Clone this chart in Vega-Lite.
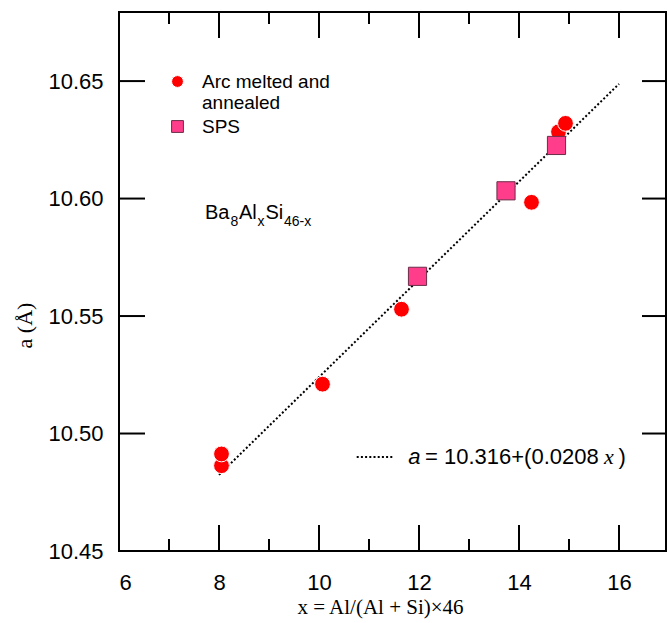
{
  "$schema": "https://vega.github.io/schema/vega-lite/v6.json",
  "width": 547,
  "height": 539,
  "autosize": "none",
  "padding": {"left": 119, "top": 12, "right": 3, "bottom": 72},
  "background": "white",
  "config": {
    "view": {"stroke": "black", "strokeWidth": 2},
    "axis": {
      "domain": false, "ticks": false, "grid": false,
      "labelFont": "Liberation Sans", "labelFontSize": 22, "labelColor": "black",
      "titleColor": "black", "titleFontWeight": "normal"
    },
    "legend": {
      "orient": "none", "legendX": 49, "legendY": 60,
      "labelFont": "Liberation Sans", "labelFontSize": 19, "labelColor": "black",
      "labelOffset": 15, "rowPadding": 4, "labelLimit": 300, "symbolSize": 140, "symbolStrokeWidth": 1
    }
  },
  "datasets": {
    "fit": [{"x": 8, "a": 10.4824}, {"x": 16, "a": 10.6488}],
    "arc": [
      {"x": 8.05, "a": 10.4863, "method": "Arc melted and annealed"},
      {"x": 8.05, "a": 10.4913, "method": "Arc melted and annealed"},
      {"x": 10.07, "a": 10.5210, "method": "Arc melted and annealed"},
      {"x": 11.65, "a": 10.5529, "method": "Arc melted and annealed"},
      {"x": 14.25, "a": 10.5984, "method": "Arc melted and annealed"},
      {"x": 14.79, "a": 10.6284, "method": "Arc melted and annealed"},
      {"x": 14.93, "a": 10.6320, "method": "Arc melted and annealed"}
    ],
    "sps": [
      {"x": 11.97, "a": 10.5669, "method": "SPS"},
      {"x": 13.74, "a": 10.6033, "method": "SPS"},
      {"x": 14.75, "a": 10.6226, "method": "SPS"}
    ],
    "xMajor": [{"x": 8}, {"x": 10}, {"x": 12}, {"x": 14}, {"x": 16}],
    "xMinor": [{"x": 7}, {"x": 9}, {"x": 11}, {"x": 13}, {"x": 15}],
    "yMajor": [{"a": 10.5}, {"a": 10.55}, {"a": 10.6}, {"a": 10.65}],
    "formulaMain": [
      {"x": 7.72, "a": 10.5913, "t": "Ba"},
      {"x": 8.4, "a": 10.5913, "t": "Al"},
      {"x": 8.93, "a": 10.5913, "t": "Si"}
    ],
    "formulaSub": [
      {"x": 8.23, "a": 10.5885, "t": "8"},
      {"x": 8.77, "a": 10.5885, "t": "x"},
      {"x": 9.3, "a": 10.5885, "t": "46-x"}
    ],
    "eqLine": [{"x": 10.754, "x2": 11.48, "a": 10.49}],
    "eqItalic": [{"x": 11.786, "a": 10.487, "t": "a"}],
    "eqMain": [{"x": 12.12, "a": 10.487, "t": "= 10.316+(0.0208"}],
    "eqX": [{"x": 15.7, "a": 10.487, "t": "x"}],
    "eqClose": [{"x": 15.99, "a": 10.487, "t": ")"}]
  },
  "layer": [
    {
      "data": {"name": "fit"},
      "mark": {"type": "line", "color": "black", "strokeWidth": 2, "strokeDash": [2, 2.2]},
      "encoding": {
        "x": {"field": "x", "type": "quantitative", "scale": {"domain": [6, 16.94], "nice": false, "zero": false},
          "axis": {"orient": "bottom", "values": [6, 8, 10, 12, 14, 16], "labelPadding": 21,
            "title": "x = Al/(Al + Si)×46", "titleFont": "Liberation Serif", "titleFontSize": 21,
            "titleX": 261, "titleY": 62, "titleBaseline": "alphabetic", "titleAlign": "center"}},
        "y": {"field": "a", "type": "quantitative", "scale": {"domain": [10.45, 10.6794], "nice": false, "zero": false},
          "axis": {"orient": "left", "values": [10.45, 10.5, 10.55, 10.6, 10.65], "format": ".2f", "labelPadding": 16,
            "title": "a (Å)", "titleFont": "Liberation Serif", "titleFontSize": 22, "titleAngle": -90,
            "titleX": -95, "titleY": 313, "titleBaseline": "middle", "titleAlign": "center"}}
      }
    },
    {
      "data": {"name": "xMajor"},
      "mark": {"type": "rule", "color": "black", "strokeWidth": 2},
      "encoding": {"x": {"field": "x", "type": "quantitative"}, "y": {"datum": 10.45, "type": "quantitative"}, "y2": {"datum": 10.46106}}
    },
    {
      "data": {"name": "xMajor"},
      "mark": {"type": "rule", "color": "black", "strokeWidth": 2},
      "encoding": {"x": {"field": "x", "type": "quantitative"}, "y": {"datum": 10.6794, "type": "quantitative"}, "y2": {"datum": 10.66834}}
    },
    {
      "data": {"name": "xMinor"},
      "mark": {"type": "rule", "color": "black", "strokeWidth": 2},
      "encoding": {"x": {"field": "x", "type": "quantitative"}, "y": {"datum": 10.45, "type": "quantitative"}, "y2": {"datum": 10.45511}}
    },
    {
      "data": {"name": "xMinor"},
      "mark": {"type": "rule", "color": "black", "strokeWidth": 2},
      "encoding": {"x": {"field": "x", "type": "quantitative"}, "y": {"datum": 10.6794, "type": "quantitative"}, "y2": {"datum": 10.67429}}
    },
    {
      "data": {"name": "yMajor"},
      "mark": {"type": "rule", "color": "black", "strokeWidth": 2},
      "encoding": {"y": {"field": "a", "type": "quantitative"}, "x": {"datum": 6, "type": "quantitative"}, "x2": {"datum": 6.52}}
    },
    {
      "data": {"name": "yMajor"},
      "mark": {"type": "rule", "color": "black", "strokeWidth": 2},
      "encoding": {"y": {"field": "a", "type": "quantitative"}, "x": {"datum": 16.94, "type": "quantitative"}, "x2": {"datum": 16.46}}
    },
    {
      "data": {"name": "arc"},
      "mark": {"type": "point", "filled": true, "size": 250, "strokeWidth": 1, "opacity": 1},
      "encoding": {
        "x": {"field": "x", "type": "quantitative"},
        "y": {"field": "a", "type": "quantitative"},
        "shape": {"field": "method", "type": "nominal", "scale": {"domain": ["Arc melted and annealed", "SPS"], "range": ["circle", "square"]},
          "legend": {"title": null, "labelExpr": "datum.label == 'Arc melted and annealed' ? ['Arc melted and', 'annealed'] : datum.label"}},
        "fill": {"field": "method", "type": "nominal", "scale": {"domain": ["Arc melted and annealed", "SPS"], "range": ["#ff0000", "#ff3d8b"]},
          "legend": {"title": null, "labelExpr": "datum.label == 'Arc melted and annealed' ? ['Arc melted and', 'annealed'] : datum.label"}},
        "stroke": {"field": "method", "type": "nominal", "scale": {"domain": ["Arc melted and annealed", "SPS"], "range": ["#ffffff", "#6b2d48"]},
          "legend": {"title": null, "labelExpr": "datum.label == 'Arc melted and annealed' ? ['Arc melted and', 'annealed'] : datum.label"}}
      }
    },
    {
      "data": {"name": "sps"},
      "mark": {"type": "point", "filled": true, "size": 330, "strokeWidth": 1, "opacity": 1},
      "encoding": {
        "x": {"field": "x", "type": "quantitative"},
        "y": {"field": "a", "type": "quantitative"},
        "shape": {"field": "method", "type": "nominal", "scale": {"domain": ["Arc melted and annealed", "SPS"], "range": ["circle", "square"]},
          "legend": {"title": null, "labelExpr": "datum.label == 'Arc melted and annealed' ? ['Arc melted and', 'annealed'] : datum.label"}},
        "fill": {"field": "method", "type": "nominal", "scale": {"domain": ["Arc melted and annealed", "SPS"], "range": ["#ff0000", "#ff3d8b"]},
          "legend": {"title": null, "labelExpr": "datum.label == 'Arc melted and annealed' ? ['Arc melted and', 'annealed'] : datum.label"}},
        "stroke": {"field": "method", "type": "nominal", "scale": {"domain": ["Arc melted and annealed", "SPS"], "range": ["#ffffff", "#6b2d48"]},
          "legend": {"title": null, "labelExpr": "datum.label == 'Arc melted and annealed' ? ['Arc melted and', 'annealed'] : datum.label"}}
      }
    },
    {
      "data": {"name": "formulaMain"},
      "mark": {"type": "text", "font": "Liberation Sans", "fontSize": 20, "align": "left", "baseline": "alphabetic", "color": "black"},
      "encoding": {"x": {"field": "x", "type": "quantitative"}, "y": {"field": "a", "type": "quantitative"}, "text": {"field": "t"}}
    },
    {
      "data": {"name": "formulaSub"},
      "mark": {"type": "text", "font": "Liberation Sans", "fontSize": 14, "align": "left", "baseline": "alphabetic", "color": "black"},
      "encoding": {"x": {"field": "x", "type": "quantitative"}, "y": {"field": "a", "type": "quantitative"}, "text": {"field": "t"}}
    },
    {
      "data": {"name": "eqLine"},
      "mark": {"type": "rule", "color": "black", "strokeWidth": 2, "strokeDash": [2, 2.2]},
      "encoding": {"x": {"field": "x", "type": "quantitative"}, "x2": {"field": "x2"}, "y": {"field": "a", "type": "quantitative"}}
    },
    {
      "data": {"name": "eqItalic"},
      "mark": {"type": "text", "font": "Liberation Sans", "fontSize": 22, "fontStyle": "italic", "align": "left", "baseline": "alphabetic", "color": "black"},
      "encoding": {"x": {"field": "x", "type": "quantitative"}, "y": {"field": "a", "type": "quantitative"}, "text": {"field": "t"}}
    },
    {
      "data": {"name": "eqMain"},
      "mark": {"type": "text", "font": "Liberation Sans", "fontSize": 22, "align": "left", "baseline": "alphabetic", "color": "black"},
      "encoding": {"x": {"field": "x", "type": "quantitative"}, "y": {"field": "a", "type": "quantitative"}, "text": {"field": "t"}}
    },
    {
      "data": {"name": "eqX"},
      "mark": {"type": "text", "font": "Liberation Serif", "fontSize": 22, "fontStyle": "italic", "align": "left", "baseline": "alphabetic", "color": "black"},
      "encoding": {"x": {"field": "x", "type": "quantitative"}, "y": {"field": "a", "type": "quantitative"}, "text": {"field": "t"}}
    },
    {
      "data": {"name": "eqClose"},
      "mark": {"type": "text", "font": "Liberation Sans", "fontSize": 22, "align": "left", "baseline": "alphabetic", "color": "black"},
      "encoding": {"x": {"field": "x", "type": "quantitative"}, "y": {"field": "a", "type": "quantitative"}, "text": {"field": "t"}}
    }
  ]
}
